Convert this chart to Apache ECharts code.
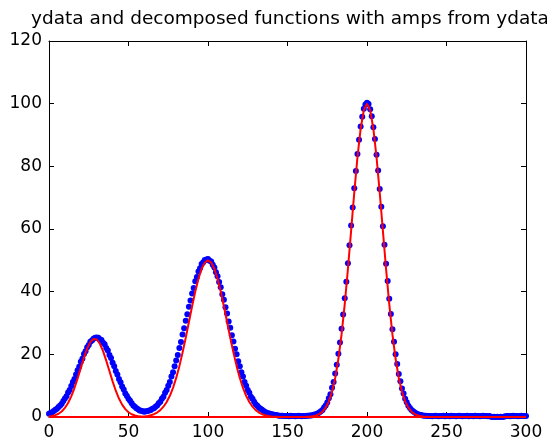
<!DOCTYPE html>
<html>
<head>
<meta charset="utf-8">
<title>ydata and decomposed functions</title>
<script src="https://cdn.jsdelivr.net/npm/echarts@6/dist/echarts.min.js"></script>
<style>
  html, body { margin: 0; padding: 0; background: #fff; }
  #chart { width: 547px; height: 445px; }
</style>
</head>
<body>
<div id="chart"></div>
<script>
// ydata samples, one per x = 0..300 (blue dots)
var ydata = [
  1.0, 1.3, 1.5, 1.9, 2.3, 2.6, 3.2, 3.7, 4.2, 5.1,
  5.9, 6.6, 7.8, 8.6, 9.9, 11.2, 12.1, 13.6, 14.9, 16.0,
  17.6, 18.6, 20.1, 21.0, 22.3, 23.0, 24.0, 24.4, 25.0, 25.3,
  25.4, 25.3, 24.8, 24.6, 23.7, 23.2, 22.0, 21.2, 19.8, 18.8,
  17.3, 16.2, 14.7, 13.6, 12.1, 11.1, 9.7, 8.8, 7.5, 6.7,
  5.8, 5.2, 4.4, 3.7, 3.3, 2.8, 2.5, 2.1, 2.0, 1.8,
  1.7, 1.8, 1.9, 2.1, 2.2, 2.6, 2.8, 3.3, 3.7, 4.4,
  4.9, 5.8, 6.5, 7.7, 8.6, 10.0, 11.2, 12.9, 14.3, 16.2,
  18.0, 19.8, 22.0, 23.9, 26.3, 28.3, 30.7, 32.8, 35.2, 37.2,
  39.4, 41.2, 43.3, 44.7, 46.4, 47.5, 48.8, 49.4, 50.1, 50.3,
  50.4, 49.9, 49.6, 48.6, 47.7, 46.2, 44.9, 43.1, 41.4, 39.2,
  37.4, 35.0, 33.0, 30.5, 28.5, 26.1, 24.1, 21.8, 20.0, 17.8,
  16.2, 14.3, 12.9, 11.2, 10.0, 8.6, 7.7, 6.5, 5.8, 4.9,
  4.1, 3.6, 3.0, 2.6, 2.3, 1.9, 1.6, 1.3, 1.2, 1.0,
  0.9, 0.8, 0.6, 0.6, 0.5, 0.4, 0.4, 0.4, 0.3, 0.3,
  0.3, 0.2, 0.4, 0.3, 0.3, 0.2, 0.3, 0.4, 0.3, 0.2,
  0.3, 0.3, 0.4, 0.4, 0.5, 0.5, 0.6, 0.8, 0.9, 1.1,
  1.4, 1.8, 2.2, 3.0, 3.7, 4.6, 6.0, 7.3, 9.3, 11.2,
  13.9, 16.7, 20.2, 23.8, 28.2, 32.7, 37.9, 43.2, 49.1, 54.8,
  61.1, 66.9, 73.0, 78.5, 83.9, 88.5, 92.7, 95.8, 98.4, 99.7,
  100.3, 99.9, 98.2, 96.0, 92.5, 88.7, 83.7, 78.7, 72.8, 67.1,
  60.9, 55.0, 48.9, 43.4, 37.7, 32.9, 28.0, 24.0, 20.0, 16.9,
  13.7, 11.4, 9.1, 7.5, 5.8, 4.7, 3.6, 2.9, 2.2, 1.8,
  1.4, 1.1, 0.9, 0.7, 0.6, 0.5, 0.4, 0.4, 0.3, 0.3,
  0.3, 0.2, 0.3, 0.4, 0.3, 0.2, 0.3, 0.3, 0.4, 0.2,
  0.3, 0.3, 0.2, 0.4, 0.3, 0.3, 0.2, 0.3, 0.4, 0.3,
  0.2, 0.3, 0.3, 0.4, 0.2, 0.3, 0.3, 0.2, 0.4, 0.3,
  0.3, 0.2, 0.3, 0.4, 0.3, 0.3, 0.2, 0.3, 0.1, 0.0,
  0.1, 0.0, 0.1, 0.0, 0.1, 0.0, 0.1, 0.2, 0.3, 0.3,
  0.2, 0.3, 0.4, 0.3, 0.3, 0.2, 0.3, 0.4, 0.3, 0.3,
  0.3
];

// decomposed function 1 (red)
var fit1X = [0, 2, 4, 6, 8, 10, 12, 14, 16, 18, 20, 22, 24, 26, 28, 30, 32, 34, 36, 38,
  40, 42, 44, 46, 48, 50, 52, 54, 56, 58, 60, 62, 64, 300];
var fit1Y = [0.15, 0.31, 0.58, 1.04, 1.77, 2.89, 4.47, 6.59, 9.24, 12.33, 15.67, 18.95, 21.81, 23.90, 24.92, 24.74, 23.38, 21.02, 17.99, 14.66,
  11.37, 8.39, 5.89, 3.94, 2.51, 1.52, 0.88, 0.48, 0.25, 0.12, 0.06, 0.03, 0.01, 0];

// decomposed function 2 (red)
var fit2X = [0, 50, 52, 54, 56, 58, 60, 62, 64, 66, 68, 70, 72, 74, 76, 78, 80, 82, 84, 86, 88,
  90, 92, 94, 96, 98, 100, 102, 104, 106, 108, 110, 112, 114, 116, 118, 120,
  122, 124, 126, 128, 130, 132, 134, 136, 138, 140, 142, 144, 146, 148, 150, 300];
var fit2Y = [0, 0.01, 0.02, 0.03, 0.06, 0.11, 0.19, 0.33, 0.56, 0.90, 1.43, 2.20, 3.29, 4.78, 6.77, 9.31, 12.47, 16.23, 20.55, 25.31, 30.33,
  35.33, 40.04, 44.12, 47.30, 49.31, 50.00, 49.31, 47.30, 44.12, 40.04, 35.33, 30.33, 25.31, 20.55, 16.23, 12.47,
  9.31, 6.77, 4.78, 3.29, 2.20, 1.43, 0.90, 0.56, 0.33, 0.19, 0.11, 0.06, 0.03, 0.02, 0.01, 0];

// decomposed function 3 (red)
var fit3X = [0, 160, 162, 164, 166, 168, 170, 172, 174, 176, 178, 180, 182, 184, 186, 188,
  190, 192, 194, 196, 198, 200, 202, 204, 206, 208, 210, 212, 214, 216, 218,
  220, 222, 224, 226, 228, 230, 232, 234, 236, 238, 240, 300];
var fit3Y = [0, 0.02, 0.05, 0.12, 0.24, 0.48, 0.92, 1.69, 2.96, 4.98, 8.04, 12.45, 18.50, 26.36, 36.03, 47.24,
  59.40, 71.65, 82.90, 92.00, 97.94, 100.00, 97.94, 92.00, 82.90, 71.65, 59.40, 47.24, 36.03, 26.36, 18.50,
  12.45, 8.04, 4.98, 2.96, 1.69, 0.92, 0.48, 0.24, 0.12, 0.05, 0.02, 0];

var titleText = "ydata and decomposed functions with amps from ydata";

function pairs(xs, ys) {
  return xs.map(function (x, i) { return [x, ys[i]]; });
}

var font = "DejaVu Sans";
var black = "#000";

function boxAxis(pos, min, max, step, showLabel) {
  return {
    type: "value",
    position: pos,
    min: min,
    max: max,
    interval: step,
    axisLine: { show: true, onZero: false, lineStyle: { color: black, width: 1 } },
    axisTick: { show: true, inside: true, length: 5, lineStyle: { color: black } },
    axisLabel: {
      show: showLabel,
      color: black,
      fontFamily: font,
      fontSize: 17,
      margin: 7
    },
    splitLine: { show: false }
  };
}

var chart = echarts.init(document.getElementById("chart"), null, { renderer: "canvas" });

chart.setOption({
  animation: false,
  backgroundColor: "#fff",
  title: {
    text: titleText,
    left: 285,
    top: 5,
    textAlign: "center",
    textStyle: { fontFamily: font, fontSize: 18.5, fontWeight: "normal", color: black }
  },
  grid: { left: 49, right: 21, top: 41, bottom: 28 },
  xAxis: [boxAxis("bottom", 0, 300, 50, true), boxAxis("top", 0, 300, 50, false)],
  yAxis: [boxAxis("left", 0, 120, 20, true), boxAxis("right", 0, 120, 20, false)],
  series: [
    {
      name: "ydata",
      type: "scatter",
      symbol: "circle",
      symbolSize: 6,
      itemStyle: { color: "#0000ff", opacity: 1 },
      data: ydata.map(function (y, i) { return [i, y]; })
    },
    {
      name: "f1",
      type: "line",
      showSymbol: false,
      lineStyle: { color: "#ff0000", width: 2 },
      data: pairs(fit1X, fit1Y)
    },
    {
      name: "f2",
      type: "line",
      showSymbol: false,
      lineStyle: { color: "#ff0000", width: 2 },
      data: pairs(fit2X, fit2Y)
    },
    {
      name: "f3",
      type: "line",
      showSymbol: false,
      lineStyle: { color: "#ff0000", width: 2 },
      data: pairs(fit3X, fit3Y)
    }
  ]
});
</script>
</body>
</html>
